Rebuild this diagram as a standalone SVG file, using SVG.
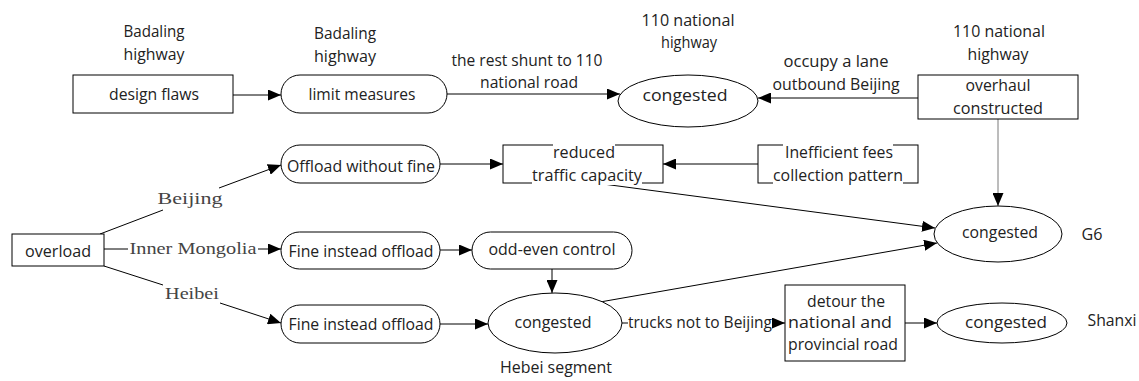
<svg xmlns="http://www.w3.org/2000/svg" width="1139" height="381" viewBox="0 0 1139 381">
<defs>
<marker id="ah" viewBox="0 0 13 11" refX="13" refY="5.5" markerWidth="13" markerHeight="11" markerUnits="userSpaceOnUse" orient="auto">
<path d="M0,0 L13,5.5 L0,11 z" fill="#000"/>
</marker>
<style>
.n{fill:#fff;stroke:#000;stroke-width:1}
.t{font-family:"Open Sans","Liberation Sans",sans-serif;font-size:17px;fill:#222;text-anchor:middle}
.l{font-size:16px}
.s{font-family:"Liberation Serif","DejaVu Serif",serif;font-size:17px;fill:#444;text-anchor:middle}
.e{fill:none;stroke:#000;stroke-width:1}
.a{marker-end:url(#ah)}
</style>
</defs>
<rect width="1139" height="381" fill="#fff"/>

<g id="connectors">
<path class="e a" d="M233,95 L281,95"/>
<path class="e a" d="M447,94 L620,94"/>
<path class="e a" d="M918,98 L758,98"/>
<path class="e a" d="M440,164 L503,164"/>
<path class="e a" d="M758,164 L663,164"/>
<path class="e a" d="M998,119 L998,206" style="stroke:#7a7a7a"/>
<path class="e a" d="M603,184 L935,228"/>
<path class="e a" d="M600,302 L937,243"/>
<path class="e" d="M100,234 L163,210"/>
<path class="e a" d="M219,188 L281,165"/>
<path class="e" d="M104,249 L128,249"/>
<path class="e a" d="M258,249 L281,249"/>
<path class="e" d="M104,266 L163,285"/>
<path class="e a" d="M220,303 L281,323"/>
<path class="e a" d="M440,250 L472,250"/>
<path class="e a" d="M552,269 L552,293"/>
<path class="e a" d="M440,324 L488,324"/>
<path class="e" d="M622,323 L628,323"/>
<path class="e a" d="M772,323 L785,323"/>
<path class="e a" d="M905,323 L937,323"/>
<text class="t l" x="527" y="66" textLength="151" lengthAdjust="spacingAndGlyphs">the rest shunt to 110</text>
<text class="t l" x="529" y="88" textLength="98" lengthAdjust="spacingAndGlyphs">national road</text>
<text class="t l" x="836" y="67" textLength="105" lengthAdjust="spacingAndGlyphs">occupy a lane</text>
<text class="t l" x="836" y="90" textLength="127" lengthAdjust="spacingAndGlyphs">outbound Beijing</text>
<text class="s" x="190" y="204" textLength="65" lengthAdjust="spacingAndGlyphs">Beijing</text>
<text class="s" x="193" y="254" textLength="127" lengthAdjust="spacingAndGlyphs">Inner Mongolia</text>
<text class="s" x="192" y="299" textLength="54" lengthAdjust="spacingAndGlyphs">Heibei</text>
<text class="t" x="700" y="328" textLength="144" lengthAdjust="spacingAndGlyphs">trucks not to Beijing</text>
</g>

<g id="design-flaws">
<rect class="n" x="73" y="75" width="160" height="38"/>
<text class="t" x="154" y="100" textLength="90" lengthAdjust="spacingAndGlyphs">design flaws</text>
<text class="t" x="154" y="37" textLength="61" lengthAdjust="spacingAndGlyphs">Badaling</text>
<text class="t" x="154" y="60" textLength="61" lengthAdjust="spacingAndGlyphs">highway</text>
</g>

<g id="limit-measures">
<rect class="n" x="281" y="75" width="166" height="38" rx="19"/>
<text class="t" x="362" y="100" textLength="107" lengthAdjust="spacingAndGlyphs">limit measures</text>
<text class="t" x="345" y="39" textLength="62" lengthAdjust="spacingAndGlyphs">Badaling</text>
<text class="t" x="345" y="62" textLength="62" lengthAdjust="spacingAndGlyphs">highway</text>
</g>

<g id="congested-110">
<ellipse class="n" cx="688" cy="101" rx="70" ry="26"/>
<text class="t" x="685" y="101" textLength="85" lengthAdjust="spacingAndGlyphs">congested</text>
<text class="t" x="688" y="26" textLength="93" lengthAdjust="spacingAndGlyphs">110 national</text>
<text class="t" x="689" y="48" textLength="56" lengthAdjust="spacingAndGlyphs">highway</text>
</g>

<g id="overhaul">
<rect class="n" x="918" y="75" width="160" height="44"/>
<text class="t" x="998" y="91" textLength="65" lengthAdjust="spacingAndGlyphs">overhaul</text>
<text class="t" x="998" y="114" textLength="90" lengthAdjust="spacingAndGlyphs">constructed</text>
<text class="t" x="999" y="37" textLength="92" lengthAdjust="spacingAndGlyphs">110 national</text>
<text class="t" x="998" y="60" textLength="61" lengthAdjust="spacingAndGlyphs">highway</text>
</g>

<g id="offload-without-fine">
<rect class="n" x="281" y="145" width="159" height="38" rx="19"/>
<text class="t" x="361" y="172" textLength="148" lengthAdjust="spacingAndGlyphs">Offload without fine</text>
</g>

<g id="reduced-capacity">
<rect class="n" x="503" y="145" width="160" height="38"/>
<rect x="553" y="144" width="62" height="3" fill="#fff"/>
<rect x="532" y="182" width="110" height="3" fill="#fff"/>
<text class="t" x="584" y="158" textLength="62" lengthAdjust="spacingAndGlyphs">reduced</text>
<text class="t" x="587" y="181" textLength="110" lengthAdjust="spacingAndGlyphs">traffic capacity</text>
</g>

<g id="inefficient-fees">
<rect class="n" x="758" y="145" width="160" height="38"/>
<rect x="783" y="144" width="110" height="3" fill="#fff"/>
<rect x="773" y="182" width="130" height="3" fill="#fff"/>
<text class="t" x="839" y="158" textLength="108" lengthAdjust="spacingAndGlyphs">Inefficient fees</text>
<text class="t" x="838" y="181" textLength="130" lengthAdjust="spacingAndGlyphs">collection pattern</text>
</g>

<g id="overload">
<rect class="n" x="12" y="234" width="92" height="32"/>
<text class="t" x="58" y="257" textLength="66" lengthAdjust="spacingAndGlyphs">overload</text>
</g>

<g id="fine-instead-offload-1">
<rect class="n" x="281" y="232" width="159" height="37" rx="18.5"/>
<text class="t" x="361" y="257" textLength="145" lengthAdjust="spacingAndGlyphs">Fine instead offload</text>
</g>

<g id="odd-even-control">
<rect class="n" x="472" y="232" width="160" height="37" rx="18.5"/>
<text class="t" x="552" y="255" textLength="127" lengthAdjust="spacingAndGlyphs">odd-even control</text>
</g>

<g id="fine-instead-offload-2">
<rect class="n" x="281" y="305" width="159" height="38" rx="19"/>
<text class="t" x="361" y="330" textLength="145" lengthAdjust="spacingAndGlyphs">Fine instead offload</text>
</g>

<g id="congested-hebei">
<ellipse class="n" cx="555" cy="323" rx="67" ry="30"/>
<text class="t" x="553" y="328" textLength="77" lengthAdjust="spacingAndGlyphs">congested</text>
<text class="t" x="556" y="373" textLength="112" lengthAdjust="spacingAndGlyphs">Hebei segment</text>
</g>

<g id="detour">
<rect class="n" x="785" y="285" width="120" height="76"/>
<text class="t" x="846" y="307" textLength="78" lengthAdjust="spacingAndGlyphs">detour the</text>
<text class="t" x="840" y="328" textLength="104" lengthAdjust="spacingAndGlyphs">national and</text>
<text class="t" x="843" y="350" textLength="110" lengthAdjust="spacingAndGlyphs">provincial road</text>
</g>

<g id="congested-g6">
<ellipse class="n" cx="998" cy="234" rx="64" ry="28"/>
<text class="t" x="1000" y="238" textLength="76" lengthAdjust="spacingAndGlyphs">congested</text>
<text class="t" x="1092" y="240" textLength="21" lengthAdjust="spacingAndGlyphs">G6</text>
</g>

<g id="congested-shanxi">
<ellipse class="n" cx="1002" cy="323" rx="65" ry="20"/>
<text class="t" x="1006" y="328" textLength="82" lengthAdjust="spacingAndGlyphs">congested</text>
<text class="t" x="1112" y="326" textLength="49" lengthAdjust="spacingAndGlyphs">Shanxi</text>
</g>
</svg>
